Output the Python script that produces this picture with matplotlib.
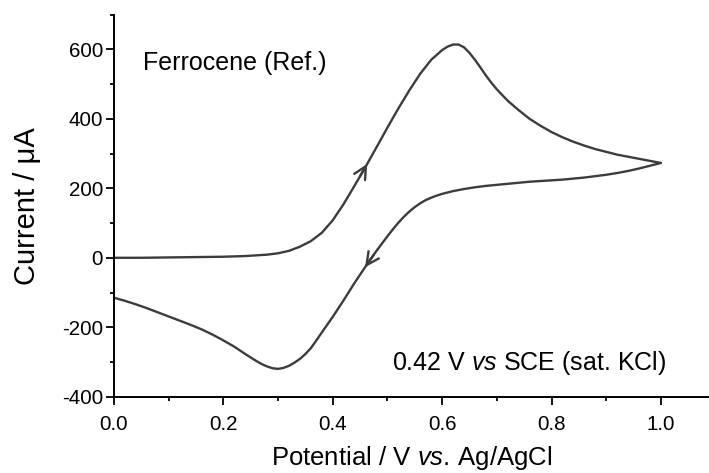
import numpy as np
import matplotlib
matplotlib.use("Agg")
import matplotlib.pyplot as plt
from matplotlib.ticker import MultipleLocator

plt.rcParams['font.family'] = ['Liberation Sans', 'DejaVu Sans']
plt.rcParams['mathtext.fontset'] = 'custom'
plt.rcParams['mathtext.rm'] = 'Liberation Sans'
plt.rcParams['mathtext.it'] = 'Liberation Sans:italic'
plt.rcParams['axes.unicode_minus'] = False

# Forward (anodic) scan
fwd_x = [0.00, 0.05, 0.10, 0.15, 0.20, 0.24, 0.26, 0.28, 0.30, 0.32, 0.34, 0.36,
         0.38, 0.40, 0.42, 0.44, 0.46, 0.48, 0.50, 0.52, 0.54, 0.56, 0.58, 0.60,
         0.61, 0.62, 0.63, 0.64, 0.65, 0.66, 0.67, 0.68, 0.69, 0.70, 0.72, 0.74,
         0.76, 0.78, 0.80, 0.82, 0.84, 0.86, 0.88, 0.90, 0.92, 0.94, 0.96, 0.98, 1.00]
fwd_y = [0, 0, 1, 2, 3, 5, 7, 9, 13, 20, 32, 48,
         72, 108, 155, 208, 262, 318, 375, 430, 482, 530, 570, 598,
         608, 614, 614, 606, 590, 570, 548, 525, 504, 485, 452, 425,
         400, 380, 362, 347, 334, 323, 313, 305, 297, 291, 285, 279, 273]

# Reverse (cathodic) scan
rev_x = [1.00, 0.98, 0.96, 0.94, 0.92, 0.90, 0.88, 0.86, 0.84, 0.82, 0.80, 0.78,
         0.76, 0.74, 0.72, 0.70, 0.68, 0.66, 0.64, 0.62, 0.60, 0.59, 0.58, 0.57,
         0.56, 0.55, 0.54, 0.53, 0.52, 0.51, 0.50, 0.49, 0.48, 0.46, 0.44, 0.42, 0.40,
         0.38, 0.37, 0.36, 0.35, 0.34, 0.33, 0.32, 0.31, 0.30, 0.29, 0.28, 0.27,
         0.26, 0.24, 0.22, 0.20, 0.18, 0.16, 0.14, 0.12, 0.10, 0.08, 0.06, 0.04,
         0.02, 0.00]
rev_y = [273, 265, 257, 250, 244, 239, 235, 231, 228, 225, 223, 221,
         219, 216, 213, 210, 207, 203, 198, 192, 184, 179, 173, 166,
         157, 146, 133, 118, 101, 82, 62, 41, 20, -25, -72, -122, -170,
         -215, -238, -260, -277, -291, -302, -311, -317, -320, -318, -313, -306,
         -297, -277, -256, -238, -221, -206, -193, -181, -169, -157, -145, -134,
         -124, -115]

label_fwd_text = "Ferrocene (Ref.)"
label_ref_text = "0.42 V $\\it{vs}$ SCE (sat. KCl)"
xlabel = "Potential / V $\\it{vs.}\\,$Ag/AgCl"
ylabel = "Current / \u03bcA"

fig = plt.figure(figsize=(7.09, 4.73), dpi=100)
ax = fig.add_axes([0.1608, 0.1613, 0.8392, 0.8077])

col = '#3c3c3c'
ax.plot(fwd_x, fwd_y, color=col, lw=1.7, solid_capstyle='round', solid_joinstyle='round')
ax.plot(rev_x, rev_y, color=col, lw=1.7, solid_capstyle='round', solid_joinstyle='round')

# direction arrows placed on the curves
def arrow_on(xs, ys, x_tail, x_tip):
    xs = np.asarray(xs, float); ys = np.asarray(ys, float)
    order = np.argsort(xs)
    yt = np.interp(x_tail, xs[order], ys[order])
    yh = np.interp(x_tip, xs[order], ys[order])
    ax.annotate('', xy=(x_tip, yh), xytext=(x_tail, yt),
                arrowprops=dict(arrowstyle='->,head_length=0.9,head_width=0.45',
                                color=col, lw=1.7, shrinkA=0, shrinkB=0))

arrow_on(fwd_x, fwd_y, 0.45, 0.463)
arrow_on(rev_x, rev_y, 0.475, 0.459)

ax.set_xlim(0, 1.088)
ax.set_ylim(-400, 700)
ax.xaxis.set_minor_locator(MultipleLocator(0.1))
ax.yaxis.set_minor_locator(MultipleLocator(100))
ax.set_xticks([0.0, 0.2, 0.4, 0.6, 0.8, 1.0])
ax.set_xticklabels(['0.0', '0.2', '0.4', '0.6', '0.8', '1.0'])
ax.set_yticks([-400, -200, 0, 200, 400, 600])
ax.set_yticklabels(['-400', '-200', '0', '200', '400', '600'])

for s in ['top', 'right']:
    ax.spines[s].set_visible(False)
for s in ['left', 'bottom']:
    ax.spines[s].set_linewidth(1.4)
    ax.spines[s].set_color('black')

ax.tick_params(which='major', direction='out', length=5.5, width=1.3, labelsize=14.8, pad=2.5)
ax.tick_params(which='minor', direction='out', length=3, width=1.3)
ax.tick_params(axis='x', which='major', pad=8)

ax.set_xlabel(xlabel, fontsize=18.5, labelpad=7)
ax.set_ylabel(ylabel, fontsize=21, labelpad=15)

ax.text(0.053, 561, label_fwd_text, fontsize=18, va='center', ha='left')
ax.text(0.508, -302, label_ref_text, fontsize=18, va='center', ha='left')

fig.savefig('out.png', dpi=100)
